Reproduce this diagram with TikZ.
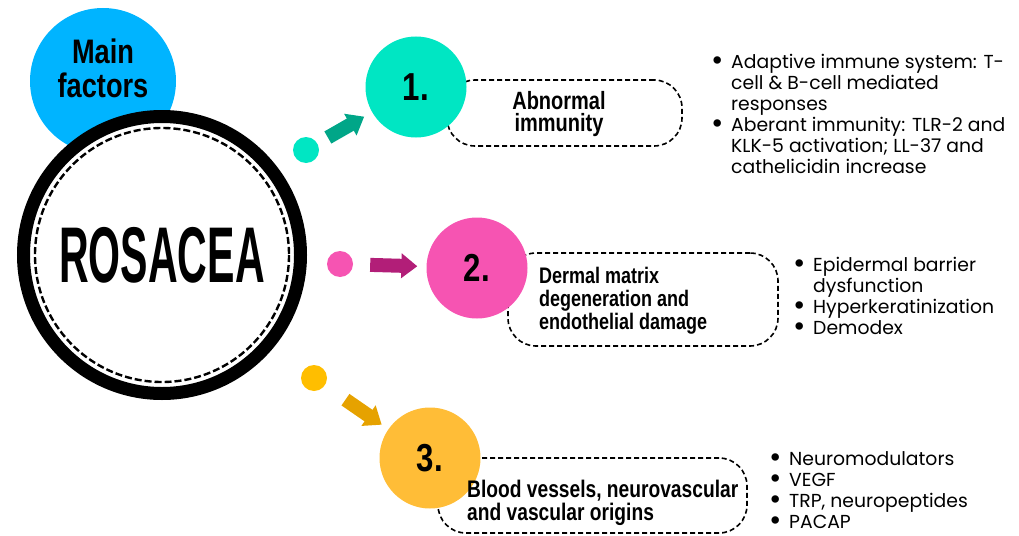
\documentclass[tikz,border=0pt]{standalone}
\usepackage{fontspec}
\usepackage{tikz}
\usetikzlibrary{positioning,arrows.meta,calc}
\setmainfont{Poppins}
\newfontfamily\headfont[FakeStretch=0.8]{Liberation Sans}
\newfontfamily\rosafont[FakeStretch=0.52]{Liberation Sans}
\definecolor{mainblue}{RGB}{0,180,255}
\definecolor{fac1}{RGB}{0,230,195}
\definecolor{fac1d}{RGB}{0,166,136}
\definecolor{fac2}{RGB}{246,84,178}
\definecolor{fac2d}{RGB}{178,30,120}
\definecolor{fac3}{RGB}{255,189,55}
\definecolor{fac3dot}{RGB}{255,190,0}
\definecolor{fac3d}{RGB}{230,162,0}
\newcommand{\bitem}{\makebox[20pt][l]{\smash{\raisebox{-0.13em}{\scalebox{1.6}{\textbullet}}}}}
\newcommand{\bcont}{\hspace*{20pt}}

\begin{document}
\begin{tikzpicture}[x=1pt,y=-1pt,
  dotc/.style={circle,minimum size=26pt,inner sep=0pt},
  numc/.style={circle,minimum size=101pt,inner sep=0pt,font=\headfont\bfseries\fontsize{39}{39}\selectfont},
  factbox/.style={draw,dash pattern=on 5pt off 3pt,line width=1.6pt,rounded corners=28pt,inner sep=0pt},
  blist/.style={anchor=north west,align=left,inner sep=0pt,font=\fontsize{18.8}{21}\selectfont},
  bigarrow/.style={line width=14pt,-{Triangle[length=16pt,width=24pt]}}]
\useasboundingbox (0,0) rectangle (1019,535);
\clip (0,0) rectangle (1019,535);
\node[circle,fill=mainblue,minimum size=146pt,inner sep=0pt] (mainf) at (103,81) {};
\node[align=center,inner sep=0pt,font=\headfont\bfseries\fontsize{34}{34}\selectfont] (mainlbl) at (103,68) {Main\\factors};
\node[circle,draw,line width=13pt,fill=white,minimum size=277pt,inner sep=0pt,
  font=\rosafont\bfseries\fontsize{79}{79}\selectfont] (rosacea) at (162,255) {ROSACEA};
\draw[line width=2.4pt,dash pattern=on 7pt off 3pt] (rosacea.center) circle[radius=127];
% dashed frames behind the numbered circles
\node[factbox,minimum width=235pt,minimum height=66pt] (box1) at (564.5,113) {};
\node[factbox,minimum width=270pt,minimum height=93pt] (box2) at (643,299.5) {};
\node[factbox,minimum width=309pt,minimum height=75pt] (box3) at (592.5,495.5) {};
\foreach \i/\nx/\ny/\dx/\dy/\cn/\cd/\ca/\sa/\sb in {
1/416/87/306/150/fac1/fac1/fac1d/12pt/9pt,
2/477/268/340/264/fac2/fac2/fac2d/17pt/9pt,
3/430/458/314/378/fac3/fac3dot/fac3d/25pt/8pt}{
  \node[dotc,fill=\cd] (dot\i) at (\dx,\dy) {};
  \node[numc,fill=\cn] (num\i) at (\nx,\ny) {\i.};
  \draw[bigarrow,\ca,shorten <=\sa,shorten >=\sb] (dot\i) -- (num\i);
}
\node[align=center,inner sep=0pt,font=\headfont\bfseries\fontsize{25}{22.5}\selectfont] (lbl1) at (559,114) {Abnormal\\immunity};
\node[anchor=west,align=left,inner sep=0pt,font=\headfont\bfseries\fontsize{22.5}{23}\selectfont] (lbl2) at (539,301) {Dermal matrix\\degeneration and\\endothelial damage};
\node[anchor=west,align=left,inner sep=0pt,font=\headfont\bfseries\fontsize{24}{23}\selectfont] (lbl3) at (467,503) {Blood vessels, neurovascular\\and vascular origins};
% bullet lists
\node[blist] (list1) at (711,54) {\bitem Adaptive immune system: T-\\\bcont cell \& B-cell mediated\\\bcont responses\\\bitem Aberant immunity: TLR-2 and\\\bcont KLK-5 activation; LL-37 and\\\bcont cathelicidin increase};
\node[blist] (list2) at (793,257) {\bitem Epidermal barrier\\\bcont dysfunction\\\bitem Hyperkeratinization\\\bitem Demodex};
\node[blist] (list3) at (769,451) {\bitem Neuromodulators\\\bitem VEGF\\\bitem TRP, neuropeptides\\\bitem PACAP};
\end{tikzpicture}
\end{document}
